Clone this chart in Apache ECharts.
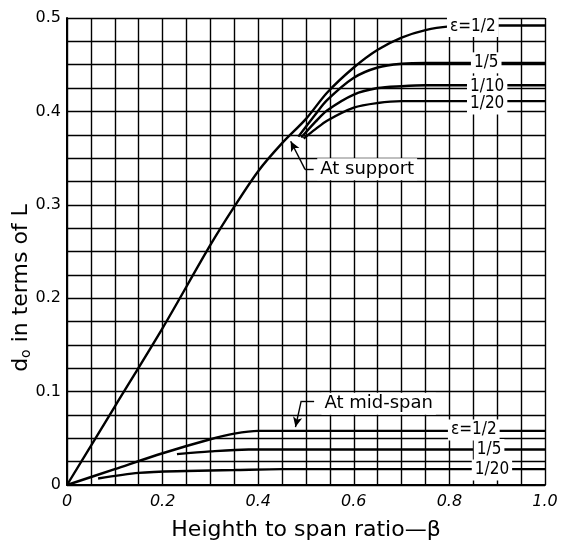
<!DOCTYPE html>
<html>
<head>
<meta charset="utf-8">
<script src="https://cdn.jsdelivr.net/npm/echarts@6/dist/echarts.min.js"></script>
<style>
html,body{margin:0;padding:0;background:#fff;}
#c{width:563px;height:546px;}
</style>
</head>
<body>
<div id="c"></div>
<script>
// ---- data ----
var xTickValues = [0, 0.2, 0.4, 0.6, 0.8, 1.0];
var xTickLabels = ['0', '0.2', '0.4', '0.6', '0.8', '1.0'];
var yTickValues = [0, 0.1, 0.2, 0.3, 0.4, 0.5];
var yTickLabels = ['0', '0.1', '0.2', '0.3', '0.4', '0.5'];

// At support
var supHalfBeta  = [0, 0.1, 0.2, 0.3, 0.35, 0.4, 0.45, 0.5, 0.544, 0.6, 0.65, 0.7, 0.75, 0.8, 0.85, 1.0];
var supHalfD     = [0, 0.084, 0.168, 0.257, 0.298, 0.336, 0.366, 0.392, 0.42, 0.447, 0.466, 0.479, 0.487, 0.491, 0.492, 0.492];
var supFifthBeta = [0.484, 0.52, 0.544, 0.6, 0.65, 0.7, 0.75, 1.0];
var supFifthD    = [0.373, 0.397, 0.412, 0.436, 0.447, 0.451, 0.452, 0.452];
var supTenthBeta = [0.49, 0.52, 0.544, 0.6, 0.65, 0.7, 0.75, 1.0];
var supTenthD    = [0.372, 0.389, 0.401, 0.418, 0.425, 0.427, 0.428, 0.428];
var supTwenBeta  = [0.495, 0.52, 0.544, 0.6, 0.65, 0.7, 0.75, 1.0];
var supTwenD     = [0.371, 0.381, 0.39, 0.404, 0.409, 0.411, 0.411, 0.411];

// At mid-span
var midHalfBeta  = [0, 0.1, 0.2, 0.3, 0.35, 0.4, 0.45, 1.0];
var midHalfD     = [0, 0.017, 0.034, 0.049, 0.055, 0.058, 0.058, 0.058];
var midFifthBeta = [0.23, 0.3, 0.38, 0.45, 1.0];
var midFifthD    = [0.033, 0.036, 0.038, 0.038, 0.038];
var midTwenBeta  = [0.065, 0.15, 0.25, 0.35, 0.45, 1.0];
var midTwenD     = [0.007, 0.013, 0.015, 0.016, 0.017, 0.017];

// curve labels: text, beta, d
var supLabels = [['ε=1/2', 0.849, 0.491], ['1/5', 0.877, 0.452], ['1/10', 0.879, 0.427], ['1/20', 0.879, 0.408]];
var midLabels = [['ε=1/2', 0.851, 0.059], ['1/5', 0.883, 0.038], ['1/20', 0.889, 0.016]];
var noteLabels = [['At support', 0.628, 0.338], ['At mid-span', 0.652, 0.087]];

function zip(a, b) { return a.map(function (v, i) { return [v, b[i]]; }); }
function near(v, arr) { for (var i = 0; i < arr.length; i++) if (Math.abs(v - arr[i]) < 1e-6) return i; return -1; }

var FONT = '"DejaVu Sans", sans-serif';
var NARROW = '"Liberation Sans Narrow", "DejaVu Sans Condensed", "DejaVu Sans", sans-serif';
var lineStyle = { color: '#000', width: 2.4 };

function labelPoint(size, font) {
  return function (t) {
    return {
      coord: [t[1], t[2]],
      symbol: 'circle', symbolSize: 0,
      label: {
        show: true, position: 'inside', formatter: t[0],
        color: '#000', fontFamily: font, fontSize: size,
        backgroundColor: '#fff', padding: [2, 3]
      }
    };
  };
}

function curve(name, bx, dy, extra) {
  var s = {
    name: name, type: 'line', data: zip(bx, dy),
    showSymbol: false, symbol: 'none',
    smooth: 0.3,
    lineStyle: lineStyle, z: 3, animation: false
  };
  if (extra) for (var k in extra) s[k] = extra[k];
  return s;
}

var arrowStyle = { color: '#000', width: 1.4, type: 'solid' };
var curveLab = labelPoint(17, NARROW);
var noteLab = labelPoint(18, FONT);

var option = {
  backgroundColor: '#fff',
  animation: false,
  grid: { left: 67, right: 18, top: 18, bottom: 56, containLabel: false },
  xAxis: {
    type: 'value', min: 0, max: 1, interval: 0.05,
    name: 'Heighth to span ratio—β', nameLocation: 'middle', nameGap: 34,
    nameTextStyle: { color: '#000', fontFamily: FONT, fontSize: 22 },
    axisLine: { show: true, lineStyle: { color: '#000', width: 2 } },
    axisTick: { show: false },
    splitLine: { show: true, lineStyle: { color: '#000', width: 1.4 } },
    axisLabel: {
      show: true, margin: 9, color: '#000', fontFamily: FONT, fontSize: 16, fontStyle: 'italic',
      showMinLabel: true, showMaxLabel: true,
      formatter: function (v) { var i = near(v, xTickValues); return i >= 0 ? xTickLabels[i] : ''; }
    }
  },
  yAxis: {
    type: 'value', min: 0, max: 0.5, interval: 0.025,
    axisLine: { show: true, lineStyle: { color: '#000', width: 2 } },
    axisTick: { show: false },
    splitLine: { show: true, lineStyle: { color: '#000', width: 1.4 } },
    axisLabel: {
      show: true, margin: 6, color: '#000', fontFamily: FONT, fontSize: 16,
      showMinLabel: true, showMaxLabel: true,
      formatter: function (v) { var i = near(v, yTickValues); return i >= 0 ? yTickLabels[i] : ''; }
    }
  },
  graphic: [{
    type: 'text', x: 21, y: 288, rotation: Math.PI / 2,
    style: {
      text: 'd{s|o} in terms of L',
      fill: '#000', font: '22px ' + FONT,
      align: 'center', verticalAlign: 'middle',
      rich: { s: { fontSize: 14, fontFamily: FONT, fill: '#000', padding: [10, 0, 0, 0] } }
    },
    z: 10
  }],
  series: [
    curve('support 1/2', supHalfBeta, supHalfD, {
      markPoint: { data: supLabels.map(curveLab).concat([noteLab(noteLabels[0])]), z: 6, animation: false },
      markLine: {
        silent: true, animation: false, label: { show: false }, lineStyle: arrowStyle, symbolSize: [7, 10],
        data: [
          [{ coord: [0.516, 0.338], symbol: 'none' }, { coord: [0.498, 0.338], symbol: 'none' }],
          [{ coord: [0.498, 0.338], symbol: 'none' }, { coord: [0.468, 0.368], symbol: 'arrow' }]
        ]
      }
    }),
    curve('support 1/5', supFifthBeta, supFifthD),
    curve('support 1/10', supTenthBeta, supTenthD),
    curve('support 1/20', supTwenBeta, supTwenD),
    curve('mid 1/2', midHalfBeta, midHalfD, {
      markPoint: { data: midLabels.map(curveLab).concat([noteLab(noteLabels[1])]), z: 6, animation: false },
      markLine: {
        silent: true, animation: false, label: { show: false }, lineStyle: arrowStyle, symbolSize: [7, 10],
        data: [
          [{ coord: [0.517, 0.090], symbol: 'none' }, { coord: [0.49, 0.090], symbol: 'none' }],
          [{ coord: [0.49, 0.090], symbol: 'none' }, { coord: [0.478, 0.062], symbol: 'arrow', lineStyle: { curveness: 0.2 } }]
        ]
      }
    }),
    curve('mid 1/5', midFifthBeta, midFifthD),
    curve('mid 1/20', midTwenBeta, midTwenD)
  ]
};

var chart = echarts.init(document.getElementById('c'), null, { renderer: 'canvas' });
chart.setOption(option);
</script>
</body>
</html>
